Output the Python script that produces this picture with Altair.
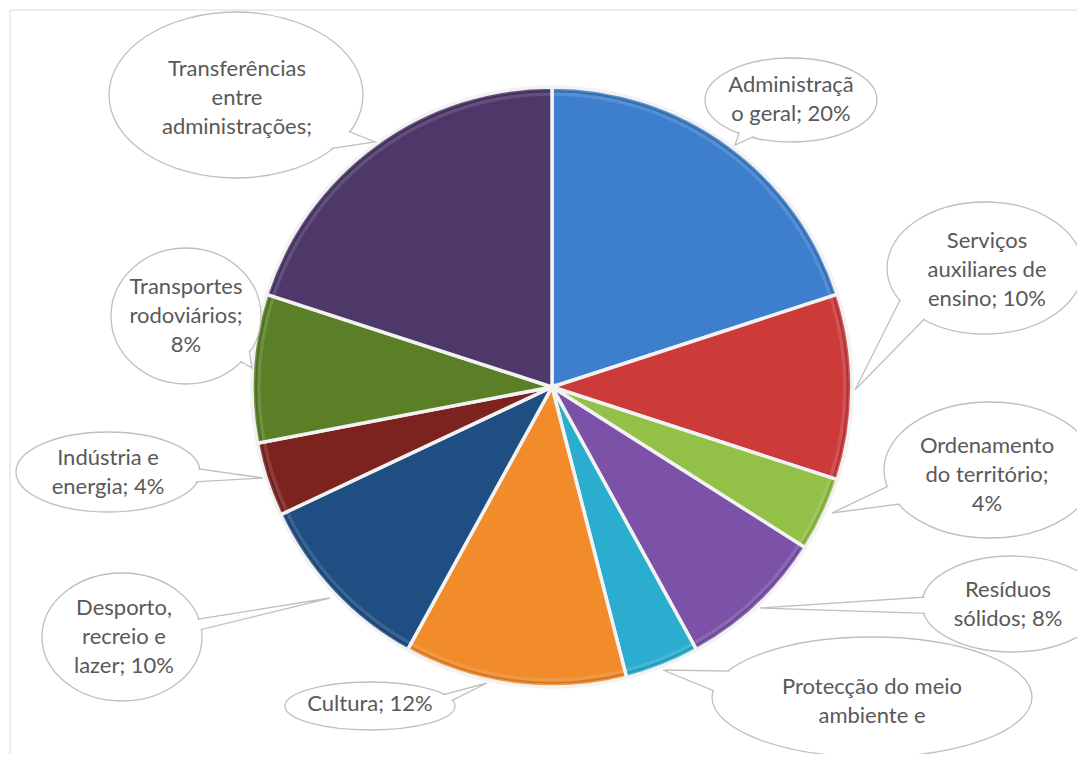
import math
import altair as alt
import pandas as pd

# ---------------- data ----------------
categories = [
    "Administração geral",
    "Serviços auxiliares de ensino",
    "Ordenamento do território",
    "Resíduos sólidos",
    "Protecção do meio ambiente e conservação da natureza",
    "Cultura",
    "Desporto, recreio e lazer",
    "Indústria e energia",
    "Transportes rodoviários",
    "Transferências entre administrações",
]
values = [20, 10, 4, 8, 4, 12, 10, 4, 8, 20]
label_texts = [
    "Administraçã\no geral; 20%",
    "Serviços\nauxiliares de\nensino; 10%",
    "Ordenamento\ndo território;\n4%",
    "Resíduos\nsólidos; 8%",
    "Protecção do meio\nambiente e",
    "Cultura; 12%",
    "Desporto,\nrecreio e\nlazer; 10%",
    "Indústria e\nenergia; 4%",
    "Transportes\nrodoviários;\n8%",
    "Transferências\nentre\nadministrações;",
]
colors = ["#3D7FCC", "#CC3A3A", "#93C047", "#7B52A8", "#2BADD0",
          "#F28B2A", "#1F4E83", "#7D231F", "#5A7F26", "#4E3769"]

# ---------------- layout (page pixels) ----------------
M = 8  # page margin
pie_cx, pie_cy, pie_r = 552, 387, 300
# callout ellipse: centre x, centre y, half width, half height
call_cx = [791, 985, 990, 1012, 872, 370, 122, 108, 186, 236]
call_cy = [100, 268, 470, 604, 697, 706, 637, 472, 316, 95]
call_rx = [86, 98, 106, 90, 160, 85, 80, 92, 75, 127]
call_ry = [42, 66, 68, 48, 60, 24, 64, 40, 68, 83]
# text block centres
text_cx = [791, 987, 987, 1008, 872, 370, 124, 108, 186, 237]
text_cy = [99, 270, 475, 604, 701, 704, 637, 472, 316, 98]
# tail tip and the two ellipse angles (deg, y down) where the tail leaves
tip_x = [735, 855, 832, 760, 663, 487, 330, 263, 252, 375]
tip_y = [145, 390, 513, 608, 670, 683, 598, 478, 368, 142]
base_a1 = [135, 165, 172, 192, 212, 335, 175, 350, 10, 25]
base_a2 = [112, 130, 145, 165, 172, 5, 150, 20, 45, 70]

line_h = 29
font = "Lato"
fsize = 22

ell, tail, inner, ty = [], [], [], []
for i in range(len(categories)):
    rx, ry = call_rx[i], call_ry[i]
    ell.append(f"M {-rx} 0 A {rx} {ry} 0 1 0 {rx} 0 A {rx} {ry} 0 1 0 {-rx} 0 Z")
    irx, iry = rx - 1.3, ry - 1.3
    inner.append(f"M {-irx} 0 A {irx} {iry} 0 1 0 {irx} 0 A {irx} {iry} 0 1 0 {-irx} 0 Z")
    k = 0.8
    a1, a2 = math.radians(base_a1[i]), math.radians(base_a2[i])
    b1 = (rx * k * math.cos(a1), ry * k * math.sin(a1))
    b2 = (rx * k * math.cos(a2), ry * k * math.sin(a2))
    t = (tip_x[i] - call_cx[i], tip_y[i] - call_cy[i])
    tail.append(f"M {b1[0]:.1f} {b1[1]:.1f} L {t[0]} {t[1]} L {b2[0]:.1f} {b2[1]:.1f} Z")
    n = label_texts[i].count("\n") + 1
    ty.append(text_cy[i] - (n - 1) * line_h / 2 - M)

df = pd.DataFrame({
    "category": categories,
    "value": values,
    "idx": list(range(len(categories))),
    "label": label_texts,
    "cx": [c - M for c in call_cx],
    "cy": [c - M for c in call_cy],
    "tx": [c - M for c in text_cx],
    "ty": ty,
    "ell": ell,
    "inner": inner,
    "tail": tail,
})

W, H = 1085 - 2 * M, 762 - 2 * M

frame = alt.Chart(pd.DataFrame({"a": [0]})).mark_rule(color="#D9D9D9", strokeWidth=1)
frame_top = frame.encode(x=alt.value(10 - M), x2=alt.value(W), y=alt.value(10 - M))
frame_left = frame.encode(x=alt.value(10 - M), y=alt.value(10 - M), y2=alt.value(H))

base = alt.Chart(df)
pie = base.mark_arc(radius=pie_r, stroke="#F2F2F2", strokeWidth=3.5).encode(
    theta=alt.Theta("value:Q", stack=True),
    color=alt.Color("category:N", scale=alt.Scale(domain=categories, range=colors), legend=None),
    order=alt.Order("idx:Q"),
    x=alt.value(pie_cx - M),
    y=alt.value(pie_cy - M),
)
rim = base.mark_arc(radius=pie_r - 1.5, radius2=pie_r - 7, color="black", opacity=0.13,
                    stroke="#F2F2F2", strokeWidth=3.5).encode(
    theta=alt.Theta("value:Q", stack=True),
    order=alt.Order("idx:Q"),
    x=alt.value(pie_cx - M),
    y=alt.value(pie_cy - M),
)

pos = dict(x=alt.X("cx:Q", scale=None, axis=None), y=alt.Y("cy:Q", scale=None, axis=None))
ell_layer = base.mark_point(filled=True, fill="white", stroke="#BFBFBF", strokeWidth=1.3,
                            size=4, opacity=1).encode(shape=alt.Shape("ell:N", scale=None, legend=None), **pos)
tail_layer = base.mark_point(filled=True, fill="white", stroke="#BFBFBF", strokeWidth=1.3,
                             size=4, opacity=1).encode(shape=alt.Shape("tail:N", scale=None, legend=None), **pos)
inner_layer = base.mark_point(filled=True, fill="white", strokeWidth=0,
                              size=4, opacity=1).encode(shape=alt.Shape("inner:N", scale=None, legend=None), **pos)
text_layer = base.mark_text(font=font, fontSize=fsize, color="#595959", align="center",
                            baseline="middle", lineBreak="\n", lineHeight=line_h).encode(
    text="label:N",
    x=alt.X("tx:Q", scale=None, axis=None),
    y=alt.Y("ty:Q", scale=None, axis=None),
)

chart = alt.layer(frame_top, frame_left, pie, rim, ell_layer, tail_layer, inner_layer, text_layer).properties(
    width=W, height=H, autosize="none", padding=0
).configure_view(strokeWidth=0)

chart.save("out.html", embed_options={"renderer": "svg", "actions": False})
